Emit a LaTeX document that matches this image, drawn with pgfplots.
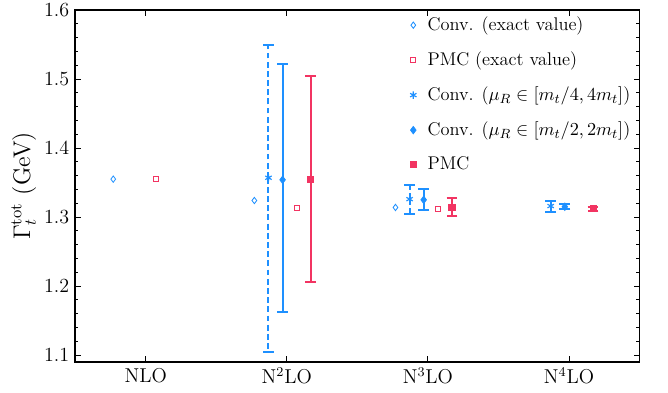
\documentclass[border=0pt]{standalone}
\usepackage{pgfplots}
\pgfplotsset{compat=1.18}
\definecolor{cblue}{RGB}{30,144,255}
\definecolor{cred}{RGB}{242,52,98}
\begin{document}
\begin{tikzpicture}
\useasboundingbox (-45pt,-18.4pt) rectangle (355pt,216.8pt);
\begin{axis}[
  at={(0,0)}, anchor=south west,
  scale only axis, width=338pt, height=210.8pt,
  xmin=0.5, xmax=4.5, ymin=1.09, ymax=1.6,
  xtick={1,2,3,4}, xticklabels={NLO, N$^2$LO, N$^3$LO, N$^4$LO},
  ytick={1.1,1.2,1.3,1.4,1.5,1.6},
  minor y tick num=4,
  tick align=inside,
  xtick pos=both, ytick pos=both,
  major tick length=3.6pt, minor tick length=2pt,
  axis line style={line width=0.8pt},
  tick style={line width=0.6pt, black},
  tick label style={font=\large},
  label style={font=\Large},
  yticklabel style={/pgf/number format/.cd, fixed, fixed zerofill, precision=1},
  ylabel={$\Gamma_t^{\mathrm{tot}}$ (GeV)},
  ylabel style={yshift=-2pt},
  legend style={at={(0.577,1.0)}, anchor=north west, draw=none, fill=none,
    row sep=7.2pt, font=\fontsize{11}{13}\selectfont, cells={anchor=west}},
  legend cell align=left,
  legend image code/.code={\path[draw=none,fill=none] (0cm,0cm) -- (0.38cm,0cm); \draw[#1] plot coordinates {(0.15cm,0cm)};},
]
% Conv. exact value
\addplot[only marks, mark=diamond, mark size=1.9pt, draw=cblue, fill=white, line width=0.5pt]
  coordinates {(0.77,1.355) (1.77,1.324) (2.77,1.314)};
\addlegendentry{Conv. (exact value)}
% PMC exact value
\addplot[only marks, mark=square, mark size=1.5pt, draw=cred, fill=white, line width=0.5pt]
  coordinates {(1.07,1.356) (2.07,1.313) (3.07,1.312)};
\addlegendentry{PMC (exact value)}
% Conv. mu in [mt/4,4mt]
\addplot[only marks, mark=asterisk, mark size=2.2pt, color=cblue, line width=0.7pt,
  error bars/.cd, y dir=both, y explicit,
  error bar style={line width=1.2pt, cblue, dash pattern=on 3.5pt off 2pt},
  error mark options={rotate=90, mark size=3.2pt, line width=1.2pt, cblue, solid}]
  coordinates {
  (1.87,1.357) += (0,0.192) -= (0,0.253)
  (2.87,1.326) += (0,0.021) -= (0,0.021)
  (3.87,1.316) += (0,0.008) -= (0,0.009)
  };
\addlegendentry{Conv. ($\mu_R\in[m_t/4,4m_t]$)}
% Conv. mu in [mt/2,2mt]
\addplot[only marks, mark=diamond*, mark size=2.2pt, color=cblue, line width=0.5pt,
  error bars/.cd, y dir=both, y explicit,
  error bar style={line width=1.2pt, cblue, solid},
  error mark options={rotate=90, mark size=3.2pt, line width=1.2pt, cblue}]
  coordinates {
  (1.97,1.354) += (0,0.168) -= (0,0.192)
  (2.97,1.325) += (0,0.015) -= (0,0.014)
  (3.97,1.315) += (0,0.004) -= (0,0.003)
  };
\addlegendentry{Conv. ($\mu_R\in[m_t/2,2m_t]$)}
% PMC
\addplot[only marks, mark=square*, mark size=1.8pt, color=cred, line width=0.5pt,
  error bars/.cd, y dir=both, y explicit,
  error bar style={line width=1.2pt, cred, solid},
  error mark options={rotate=90, mark size=3.2pt, line width=1.2pt, cred}]
  coordinates {
  (2.17,1.355) += (0,0.149) -= (0,0.149)
  (3.17,1.314) += (0,0.013) -= (0,0.013)
  (4.17,1.312) += (0,0.003) -= (0,0.003)
  };
\addlegendentry{PMC}
\end{axis}
\end{tikzpicture}
\end{document}
